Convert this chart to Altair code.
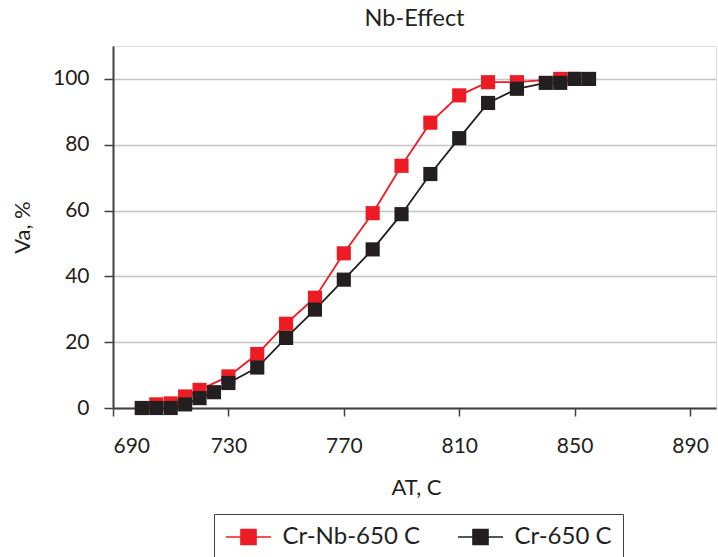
import altair as alt
import pandas as pd

# Austenite fraction vs. austenitizing temperature for two steels
series_names = ["Cr-Nb-650 C", "Cr-650 C"]
series_colors = ["#ED1C24", "#231F20"]

temps_cr_nb = [700, 705, 710, 715, 720, 730, 740, 750, 760, 770, 780, 790,
               800, 810, 820, 830, 845, 850]
va_cr_nb = [0, 1.1, 1.4, 3.5, 5.5, 9.6, 16.4, 25.6, 33.5, 47.0, 59.2, 73.6,
            86.7, 95.0, 99.0, 99.0, 100, 100]

temps_cr = [700, 705, 710, 715, 720, 725, 730, 740, 750, 760, 770, 780, 790,
            800, 810, 820, 830, 840, 845, 850, 855]
va_cr = [0, 0, 0, 1.1, 3.0, 4.8, 7.6, 12.3, 21.3, 29.9, 39.0, 48.2, 58.9,
         71.1, 82.0, 92.7, 97.0, 98.8, 98.8, 100, 100]

x_ticks = [690, 730, 770, 810, 850, 890]
y_ticks = [0, 20, 40, 60, 80, 100]

df = pd.concat([
    pd.DataFrame({"AT": temps_cr_nb, "Va": va_cr_nb, "series": series_names[0]}),
    pd.DataFrame({"AT": temps_cr, "Va": va_cr, "series": series_names[1]}),
], ignore_index=True)

FONT = "Lato"
TEXT = "#231F20"

color_scale = alt.Scale(domain=series_names, range=series_colors)

x_enc = alt.X(
    "AT:Q",
    scale=alt.Scale(domain=[690, 899], nice=False, zero=False),
    axis=alt.Axis(
        values=x_ticks, title="AT, C", grid=False,
        tickSize=8, tickWidth=1.5, tickColor="#404040",
        domainColor="#404040", domainWidth=2,
        labelFontSize=21, labelPadding=19, labelColor=TEXT, labelFont=FONT,
        titleFontSize=22, titleFont=FONT, titleColor=TEXT, titleFontWeight="normal",
        titleX=303, titleY=79, titleBaseline="middle", titleAlign="center",
    ),
)
y_enc = alt.Y(
    "Va:Q",
    scale=alt.Scale(domain=[0, 110], nice=False),
    axis=alt.Axis(
        values=y_ticks, title="Va, %", grid=True,
        gridColor="#C4C4C4", gridWidth=1.5,
        tickSize=9, tickWidth=1.5, tickColor="#404040",
        domainColor="#404040", domainWidth=2,
        labelFontSize=21, labelPadding=15, labelColor=TEXT, labelFont=FONT,
        titleFontSize=22, titleFont=FONT, titleColor=TEXT, titleFontWeight="normal",
        titleX=-91, titleY=181, titleAngle=-90, titleBaseline="middle", titleAlign="center",
    ),
)

# Legend glyph: a 45 px line segment with a 15 px square marker on it
legend = alt.Legend(
    title=None, orient="none", legendX=101, legendY=468,
    direction="horizontal", columns=2, columnPadding=33,
    symbolType="M-2.045,0H2.045M-0.682,-0.682H0.682V0.682H-0.682Z",
    symbolSize=484, symbolStrokeWidth=1.6, symbolOffset=11.5,
    labelFontSize=24, labelFont=FONT, labelColor=TEXT, labelOffset=22,
    padding=11, strokeColor="#404040", fillColor="white",
)

lines = alt.Chart(df).mark_line(strokeWidth=1.8).encode(
    x=x_enc, y=y_enc,
    color=alt.Color("series:N", scale=color_scale, legend=legend, sort=series_names),
    order="AT:Q",
    detail="series:N",
)

points = alt.Chart(df).mark_point(shape="square", filled=True, size=200, opacity=1).encode(
    x=x_enc, y=y_enc,
    color=alt.Color("series:N", scale=color_scale, legend=legend, sort=series_names),
)

chart = alt.layer(lines, points).properties(
    width=603, height=362,
    title=alt.TitleParams("Nb-Effect", fontSize=23.5, font=FONT, color=TEXT,
                          fontWeight="normal", anchor="middle", offset=16),
    autosize=alt.AutoSizeParams(type="none"),
    padding={"left": 113, "top": 46, "right": 2, "bottom": 149},
).configure_view(
    stroke="#404040", strokeWidth=1.5
).configure_legend(
    strokeWidth=1.5
).configure(background="white")

chart.save("out.html", embed_options={"renderer": "svg", "actions": False})
